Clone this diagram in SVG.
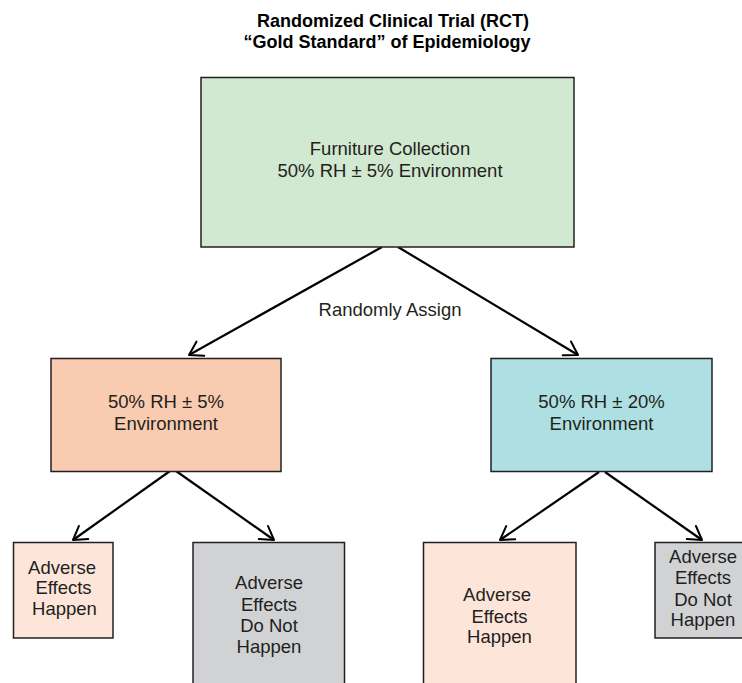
<svg xmlns="http://www.w3.org/2000/svg" width="742" height="683" viewBox="0 0 742 683">
  <style>
    .box { stroke: #231f20; stroke-width: 1.5; }
    .t { font-family: "Liberation Sans", Arial, Helvetica, sans-serif; font-size: 18.5px; fill: #231f20; text-anchor: middle; }
    .title { font-family: "Liberation Sans", Arial, Helvetica, sans-serif; font-size: 18px; font-weight: bold; fill: #000; text-anchor: middle; }
    .arrow { stroke: #000; stroke-width: 2.2; fill: none; marker-end: url(#head); }
  </style>
  <defs>
    <marker id="head" markerUnits="userSpaceOnUse" markerWidth="30" markerHeight="30" refX="15" refY="15" orient="auto" overflow="visible">
      <path d="M15,15 L2,7 M15,15 L2,23" stroke="#000" stroke-width="2" fill="none" stroke-linecap="round"/>
    </marker>
  </defs>
  <rect width="742" height="683" fill="#ffffff"/>

  <g id="title">
    <text class="title" x="393" y="27">Randomized Clinical Trial (RCT)</text>
    <text class="title" x="387" y="47.5">“Gold Standard” of Epidemiology</text>
  </g>

  <g id="connectors">
    <line class="arrow" x1="382" y1="247" x2="189" y2="355"/>
    <line class="arrow" x1="398" y1="247" x2="578" y2="355"/>
    <line class="arrow" x1="170" y1="471" x2="73" y2="540"/>
    <line class="arrow" x1="176" y1="471" x2="274" y2="540"/>
    <line class="arrow" x1="599" y1="472" x2="500" y2="540"/>
    <line class="arrow" x1="605" y1="472" x2="702" y2="540"/>
    <text class="t" x="390" y="316" font-size="18">Randomly Assign</text>
  </g>

  <g id="furniture">
    <rect class="box" x="201" y="77.5" width="373" height="169.5" fill="#d1e8d1"/>
    <text class="t" x="390" y="155">Furniture Collection</text>
    <text class="t" x="390" y="176.5">50% RH ± 5% Environment</text>
  </g>

  <g id="env5">
    <rect class="box" x="51" y="358.5" width="230" height="113" fill="#f9cbb1"/>
    <text class="t" x="166" y="408">50% RH ± 5%</text>
    <text class="t" x="166" y="430">Environment</text>
  </g>

  <g id="env20">
    <rect class="box" x="491" y="358.5" width="221" height="113" fill="#aedfe2"/>
    <text class="t" x="601.5" y="408">50% RH ± 20%</text>
    <text class="t" x="601.5" y="430">Environment</text>
  </g>

  <g id="happen1">
    <rect class="box" x="13.5" y="542.5" width="99.5" height="95.5" fill="#fde5d9"/>
    <text class="t" x="62" y="573.5">Adverse</text>
    <text class="t" x="63.5" y="594">Effects</text>
    <text class="t" x="64.5" y="614.5">Happen</text>
  </g>

  <g id="nothappen1">
    <rect class="box" x="193" y="542.5" width="151.5" height="150" fill="#d1d2d4"/>
    <text class="t" x="269" y="589">Adverse</text>
    <text class="t" x="269" y="610.5">Effects</text>
    <text class="t" x="269" y="632">Do Not</text>
    <text class="t" x="269" y="653">Happen</text>
  </g>

  <g id="happen2">
    <rect class="box" x="423.5" y="542.5" width="152.5" height="150" fill="#fde5d9"/>
    <text class="t" x="497" y="601">Adverse</text>
    <text class="t" x="499.5" y="622.5">Effects</text>
    <text class="t" x="499.5" y="643">Happen</text>
  </g>

  <g id="nothappen2">
    <rect class="box" x="655" y="542.5" width="96" height="95.5" fill="#d1d2d4"/>
    <text class="t" x="703" y="562.5">Adverse</text>
    <text class="t" x="703" y="584">Effects</text>
    <text class="t" x="703" y="605.5">Do Not</text>
    <text class="t" x="703" y="626">Happen</text>
  </g>
</svg>
